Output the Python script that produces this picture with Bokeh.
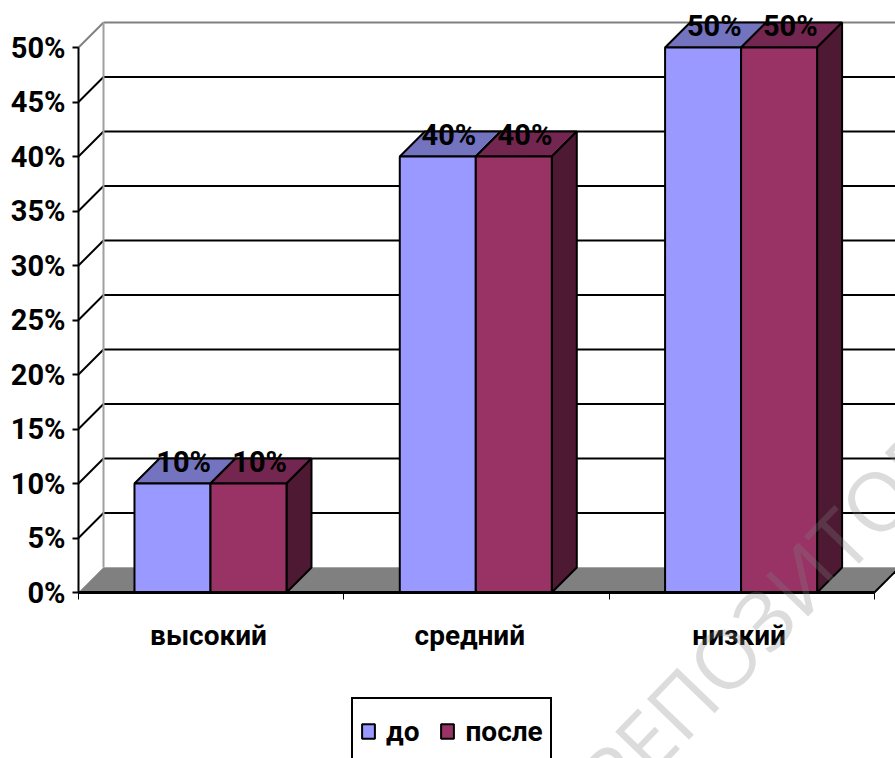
from bokeh.plotting import figure
from bokeh.models import Range1d, FixedTicker, Label, Legend, LegendItem, NumeralTickFormatter
from bokeh.embed import file_html
from bokeh.resources import INLINE

categories = ["высокий", "средний", "низкий"]
before = [0.10, 0.40, 0.50]
after = [0.10, 0.40, 0.50]
y_ticks = [0.0, 0.05, 0.10, 0.15, 0.20, 0.25, 0.30, 0.35, 0.40, 0.45, 0.50]
series_names = ["до", "после"]
value_labels = ["10%", "40%", "50%"]

FONT = "Roboto"
W, H = 895, 758
LEFT, BOTTOM = 78, 166
PX_X = 265.3
PX_Y = 1090.0
DX = 25 / PX_X
DY = 25 / PX_Y
GAP = 0.211
BW = 0.2865
X_MAX = 3.0
X_END = (W - LEFT) / PX_X

p = figure(width=W, height=H, output_backend="svg", toolbar_location=None,
           x_range=Range1d(-LEFT / PX_X, X_END),
           y_range=Range1d(-BOTTOM / PX_Y, (H - BOTTOM) / PX_Y),
           min_border_left=0, min_border_right=0, min_border_top=0, min_border_bottom=0,
           outline_line_color=None, background_fill_color="white", border_fill_color="white")
p.grid.visible = False

# floor
p.patch([0, DX, X_MAX + DX, X_MAX], [0, DY, DY, 0], fill_color="#808080",
        line_color="#a6a6a6", line_width=1)

# back wall and grid
for v in y_ticks:
    col = "#808080" if v == y_ticks[-1] else "black"
    if v > 0:
        p.line([DX, X_END], [v + DY, v + DY], line_color=col, line_width=2)
        p.line([0, DX], [v, v + DY], line_color=col, line_width=2)
p.line([DX, DX], [DY, y_ticks[-1] + DY], line_color="#a0a0a0", line_width=2)
p.line([X_MAX + DX, X_MAX], [DY, 0], line_color="black", line_width=2)

lefts_a = [i + GAP for i in range(3)]
lefts_b = [i + GAP + BW for i in range(3)]
rights_b = [i + GAP + 2 * BW for i in range(3)]

for i in range(3):
    la, lb, rb = lefts_a[i], lefts_b[i], rights_b[i]
    va, vb = before[i], after[i]
    p.patch([la, la + DX, lb + DX, lb], [va, va + DY, va + DY, va], fill_color="#7373BF",
            line_color="black", line_width=2)
    p.patch([lb, lb + DX, rb + DX, rb], [vb, vb + DY, vb + DY, vb], fill_color="#732650",
            line_color="black", line_width=2)
    p.patch([rb, rb + DX, rb + DX, rb], [0, DY, vb + DY, vb], fill_color="#4D1933",
            line_color="black", line_width=2)

r_a = p.quad(left=lefts_a, right=lefts_b, bottom=0, top=before, fill_color="#9999FF",
             line_color="black", line_width=2)
r_b = p.quad(left=lefts_b, right=rights_b, bottom=0, top=after, fill_color="#993366",
             line_color="black", line_width=2)

# value labels
for i in range(3):
    for left, val in ((lefts_a[i], before[i]), (lefts_b[i], after[i])):
        p.add_layout(Label(x=left + BW / 2 + DX / 2 - 0.005, y=val + DY - 0.003, text=value_labels[i],
                           text_font=FONT, text_font_style="bold", text_font_size="29px",
                           text_color="black", text_align="center", text_baseline="middle",
                           level="annotation"))

# axes
ya = p.yaxis[0]
ya.fixed_location = 0
ya.ticker = FixedTicker(ticks=y_ticks)
ya.formatter = NumeralTickFormatter(format="0%")
ya.bounds = (0, 0.5)
ya.axis_line_color = "black"
ya.axis_line_width = 2
ya.major_tick_line_color = "black"
ya.major_tick_line_width = 2
ya.major_tick_out = 6
ya.major_tick_in = 0
ya.minor_tick_out = 0
ya.minor_tick_in = 0
ya.major_label_standoff = 7
ya.major_label_text_font = FONT
ya.major_label_text_font_style = "bold"
ya.major_label_text_font_size = "29px"
ya.major_label_text_color = "black"

xa = p.xaxis[0]
xa.fixed_location = 0
label_ticks = [0.49, 1.475, 2.49]
xa.ticker = FixedTicker(ticks=label_ticks, minor_ticks=[0, 1, 2, 3])
xa.major_label_overrides = dict(zip(label_ticks, categories))
xa.bounds = (0, X_MAX)
xa.axis_line_color = "black"
xa.axis_line_width = 3
xa.major_tick_out = 0
xa.major_tick_in = 0
xa.minor_tick_out = 7
xa.minor_tick_in = 0
xa.minor_tick_line_color = "black"
xa.minor_tick_line_width = 1
xa.major_label_standoff = 19
xa.major_label_text_font = FONT
xa.major_label_text_font_style = "bold"
xa.major_label_text_font_size = "28px"
xa.major_label_text_color = "black"

legend = Legend(items=[LegendItem(label=series_names[0], renderers=[r_a]),
                       LegendItem(label=series_names[1], renderers=[r_b])],
                orientation="horizontal", location=(351, -7),
                border_line_color="black", border_line_width=2, border_line_alpha=1,
                background_fill_alpha=1,
                glyph_width=16, glyph_height=18, label_height=50, label_text_font=FONT,
                label_text_font_style="bold", label_text_font_size="28px",
                label_text_color="black", padding=7, spacing=20, margin=0, label_standoff=10)
p.add_layout(legend, "center")

# watermark
p.add_layout(Label(x=594, y=-33, x_units="screen", y_units="screen", text="РЕПОЗИТОРИЙ",
                   angle=46, angle_units="deg", text_font="Open Sans", text_font_size="82px",
                   text_color="#808080", text_alpha=0.28, text_baseline="alphabetic", level="overlay"))

open("out.html", "w").write(file_html(p, INLINE))
